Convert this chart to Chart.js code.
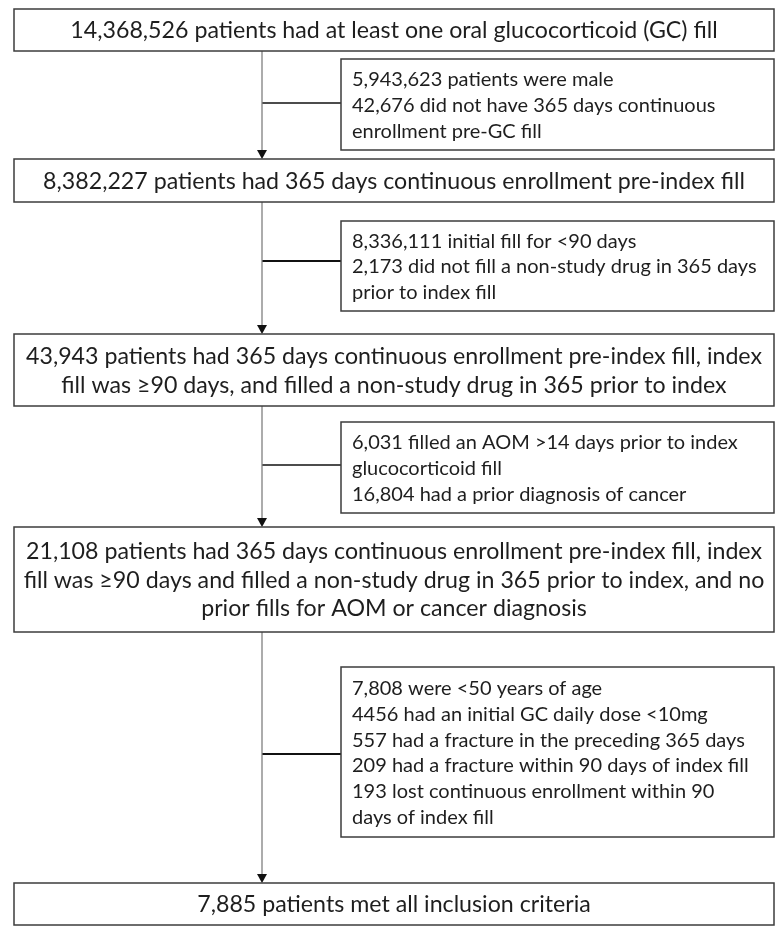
<!DOCTYPE html>
<html>
<head>
<meta charset="utf-8">
<script src="https://cdn.jsdelivr.net/npm/chart.js@4/dist/chart.umd.min.js"></script>
<style>
  html, body { margin: 0; padding: 0; background: #fff; }
  canvas { display: block; }
</style>
</head>
<body>
<canvas id="flow" width="783" height="934"></canvas>
<script>
// -------------------------------
// DATA
// -------------------------------
const steps = [
    ["14,368,526 patients had at least one oral glucocorticoid (GC) fill"],
    ["8,382,227 patients had 365 days continuous enrollment pre-index fill"],
    ["43,943 patients had 365 days continuous enrollment pre-index fill, index",
     "fill was \u226590 days, and filled a non-study drug in 365 prior to index"],
    ["21,108 patients had 365 days continuous enrollment pre-index fill, index",
     "fill was \u226590 days and filled a non-study drug in 365 prior to index, and no",
     "prior fills for AOM or cancer diagnosis"],
    ["7,885 patients met all inclusion criteria"]
];

const exclusions = [
    ["5,943,623 patients were male",
     "42,676 did not have 365 days continuous",
     "enrollment pre-GC fill"],
    ["8,336,111 initial fill for <90 days",
     "2,173 did not fill a non-study drug in 365 days",
     "prior to index fill"],
    ["6,031 filled an AOM >14 days prior to index",
     "glucocorticoid fill",
     "16,804 had a prior diagnosis of cancer"],
    ["7,808 were <50 years of age",
     "4456 had an initial GC daily dose <10mg",
     "557 had a fracture in the preceding 365 days",
     "209 had a fracture within 90 days of index fill",
     "193 lost continuous enrollment within 90",
     "days of index fill"]
];

// -------------------------------
// LAYOUT (scale units = px)
// -------------------------------
const stepTop = [9, 159, 334, 527, 883];
const stepBottom = [51, 202, 406, 632, 925];
const exclTop = [59, 221, 422, 667];
const exclBottom = [150, 311, 513, 837];
const branchY = [103, 261, 465, 754];
const spineX = 262, boxLeft = 14, boxRight = 774, exclLeft = 341;
const arrowH = 9, arrowW = 5;

const FONT = "Lato, 'Open Sans', sans-serif";

// connectors as line datasets
const datasets = [];
for (let i = 0; i < steps.length - 1; i++) {
    datasets.push({
        data: [{ x: spineX, y: stepBottom[i] }, { x: spineX, y: stepTop[i + 1] - arrowH }],
        borderColor: "#808080", borderWidth: 1.3
    });
    datasets.push({
        data: [{ x: spineX, y: branchY[i] }, { x: exclLeft, y: branchY[i] }],
        borderColor: "#111", borderWidth: (i % 2 === 1) ? 2 : 1.3
    });
}

// -------------------------------
// BOXES + TEXT PLUGIN
// -------------------------------
const flowPlugin = {
    id: "flow",
    afterDatasetsDraw(chart) {
        const ctx = chart.ctx;
        const sx = chart.scales.x, sy = chart.scales.y;
        ctx.save();
        ctx.textBaseline = "middle";

        // arrow heads
        ctx.fillStyle = "#111";
        for (let i = 1; i < steps.length; i++) {
            let tx = sx.getPixelForValue(spineX), ty = sy.getPixelForValue(stepTop[i]);
            ctx.beginPath();
            ctx.moveTo(tx - arrowW, ty - arrowH);
            ctx.lineTo(tx + arrowW, ty - arrowH);
            ctx.lineTo(tx, ty);
            ctx.closePath();
            ctx.fill();
        }

        // main boxes
        steps.forEach((lines, i) => {
            let x0 = sx.getPixelForValue(boxLeft), x1 = sx.getPixelForValue(boxRight);
            let y0 = sy.getPixelForValue(stepTop[i]), y1 = sy.getPixelForValue(stepBottom[i]);
            ctx.strokeStyle = "#3c3c3c";
            ctx.lineWidth = 1.5;
            ctx.strokeRect(x0, y0, x1 - x0, y1 - y0);
            ctx.fillStyle = "#1e1e1e";
            ctx.font = "23.2px " + FONT;
            ctx.textAlign = "center";
            let lh = 28.5, mid = (y0 + y1) / 2;
            lines.forEach((t, j) => {
                ctx.fillText(t, (x0 + x1) / 2, mid + (j - (lines.length - 1) / 2) * lh + 1);
            });
        });

        // exclusion boxes
        exclusions.forEach((lines, i) => {
            let x0 = sx.getPixelForValue(exclLeft), x1 = sx.getPixelForValue(boxRight);
            let y0 = sy.getPixelForValue(exclTop[i]), y1 = sy.getPixelForValue(exclBottom[i]);
            ctx.strokeStyle = "#3c3c3c";
            ctx.lineWidth = 1.5;
            ctx.strokeRect(x0, y0, x1 - x0, y1 - y0);
            ctx.fillStyle = "#1e1e1e";
            ctx.font = "20px " + FONT;
            ctx.textAlign = "left";
            let lh = 25.8, mid = (y0 + y1) / 2;
            lines.forEach((t, j) => {
                ctx.fillText(t, x0 + 11, mid + (j - (lines.length - 1) / 2) * lh + 1);
            });
        });
        ctx.restore();
    }
};

new Chart(document.getElementById("flow"), {
    type: "scatter",
    data: { datasets: datasets },
    options: {
        responsive: false,
        animation: false,
        showLine: true,
        elements: { point: { radius: 0, hoverRadius: 0 } },
        layout: { padding: 0 },
        plugins: { legend: { display: false }, tooltip: { enabled: false } },
        scales: {
            x: { type: "linear", min: 0, max: 783, display: false },
            y: { type: "linear", min: 0, max: 934, reverse: true, display: false }
        }
    },
    plugins: [flowPlugin]
});
</script>
</body>
</html>
